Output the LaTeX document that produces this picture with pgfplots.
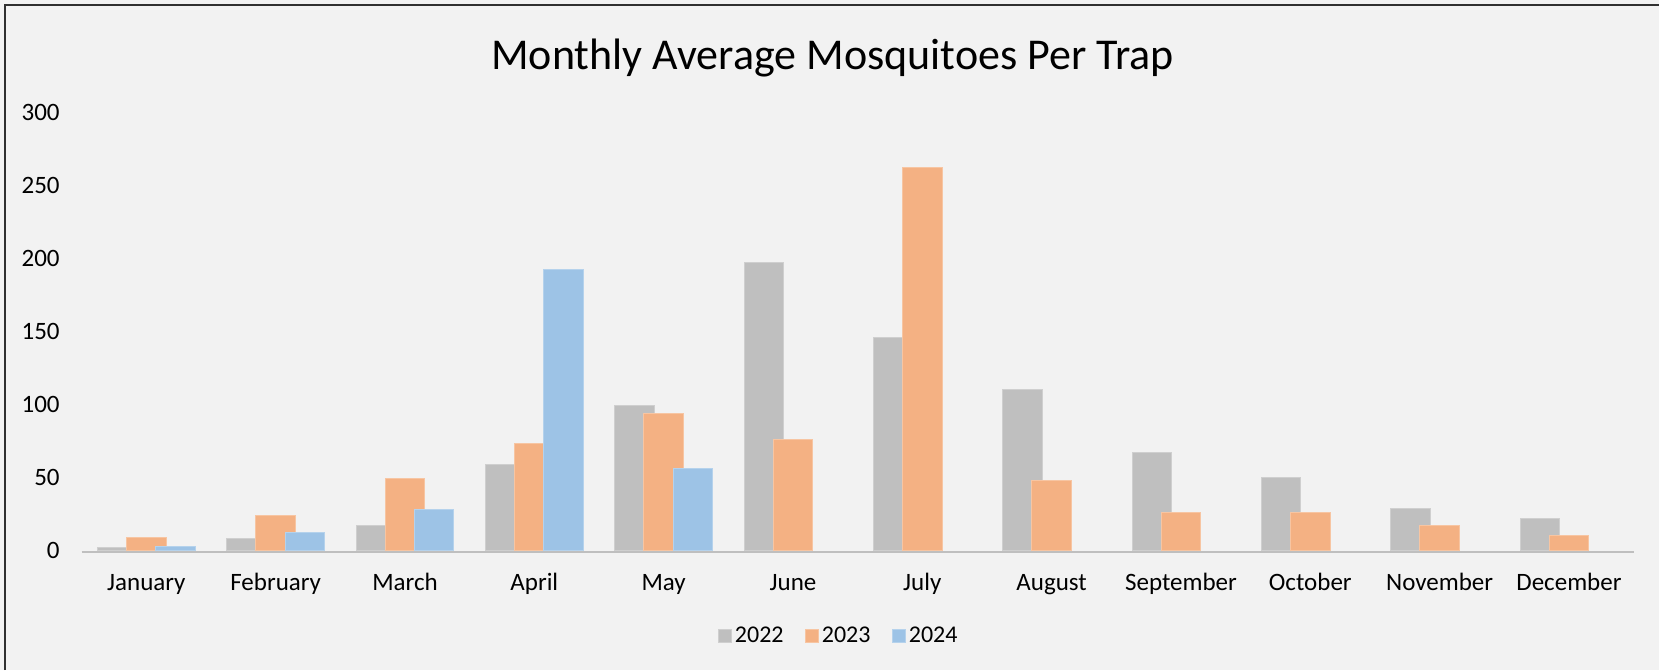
\documentclass[border=0pt]{standalone}
\usepackage{fontspec}
\setmainfont{Carlito}
\usepackage{pgfplots}
\usepackage{pgfplotstable}
\pgfplotsset{compat=1.18}
\definecolor{bgc}{HTML}{F2F2F2}
\definecolor{framec}{HTML}{303030}
\definecolor{cA}{HTML}{BFBFBF}
\definecolor{cB}{HTML}{F4B183}
\definecolor{cC}{HTML}{9DC3E6}
\pgfplotstableread{
x y
0 2
1 8
2 17
3 59
4 99
5 197
6 146
7 110
8 67
9 50
10 29
11 22
}\dataA
\pgfplotstableread{
x y
0 9
1 24
2 49
3 73
4 94
5 76
6 262
7 48
8 26
9 26
10 17
11 10
}\dataB
\pgfplotstableread{
x y
0 3
1 12
2 28
3 192
4 56
}\dataC
\begin{document}
\begin{tikzpicture}[x=1pt,y=1pt]
\fill[bgc] (0,0) rectangle (829.5,335);
\useasboundingbox (0,0) rectangle (829.5,335);
\draw[framec, line width=1.1pt] (2.6,0) -- (2.6,332.4) -- (829.5,332.4);
\node[anchor=base, font=\fontsize{22}{26}\selectfont] at (416.25,300) {Monthly Average Mosquitoes Per Trap};
\begin{axis}[
  at={(40.85pt,59.75pt)}, anchor=south west,
  scale only axis, width=775.95pt, height=219.25pt,
  xmin=-0.5, xmax=11.5, ymin=0, ymax=300,
  xtick={0,...,11},
  xticklabels={January,February,March,April,May,June,July,August,September,October,November,December},
  ytick={0,50,...,300},
  major tick length=0pt, tick style={draw=none},
  axis line style={draw=none},
  /pgf/number format/assume math mode=true,
  ticklabel style={font=\fontsize{12.5}{15}\selectfont},
  xticklabel style={anchor=base, yshift=-19.75pt},
  yticklabel style={anchor=east, inner sep=0pt, xshift=-10.85pt},
  ybar, bar width=19.7pt,
  clip=false,
  legend columns=3,
  legend style={at={(0.4879,-0.195)}, anchor=center, draw=none, fill=none,
    font=\fontsize{12}{14}\selectfont, inner sep=0pt,
    nodes={inner sep=1.3pt},
    /tikz/every even column/.append style={column sep=9.2pt}},
  mylegend/.style={legend image code/.code={\fill[##1] (0pt,-3.425pt) rectangle (6.85pt,3.425pt);}},
]
\addplot[fill=cA, draw=cA!75!white, line width=0.5pt, bar shift=-14.6pt, mylegend] table[x=x,y=y] {\dataA};
\addplot[fill=cB, draw=cB!75!white, line width=0.5pt, bar shift=0pt, mylegend] table[x=x,y=y] {\dataB};
\addplot[fill=cC, draw=cC!75!white, line width=0.5pt, bar shift=14.6pt, mylegend] table[x=x,y=y] {\dataC};
\legend{2022,2023,2024}
\draw[cA, line width=1.3pt] ([yshift=-0.65pt]axis cs:-0.5,0) -- ([yshift=-0.65pt]axis cs:11.5,0);
\end{axis}
\end{tikzpicture}
\end{document}
